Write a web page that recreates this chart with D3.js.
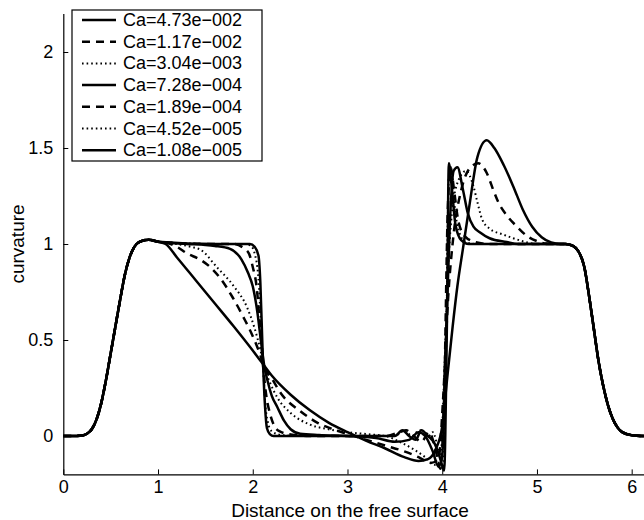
<!DOCTYPE html>
<html><head><meta charset="utf-8">
<script src="https://cdn.jsdelivr.net/npm/d3@7"></script>
<style>body{margin:0;background:#fff}svg{display:block}text{font-family:"Liberation Sans",Arial,Helvetica,sans-serif;fill:#000}</style>
</head><body><svg id="c" width="644" height="520"></svg>
<script>
// ---------- data ----------
const xTicks = [0, 1, 2, 3, 4, 5, 6];
const yTicks = [0, 0.5, 1, 1.5, 2];
const caLabels = ["Ca=4.73e\u2212002","Ca=1.17e\u2212002","Ca=3.04e\u2212003","Ca=7.28e\u2212004","Ca=1.89e\u2212004","Ca=4.52e\u2212005","Ca=1.08e\u2212005"];

// shared rising front (all series coincide here)
const riseFront = [[0,0],[0.1,0],[0.2,0.003],[0.25,0.012],[0.3,0.035],[0.35,0.085],[0.4,0.17],[0.45,0.29],[0.5,0.43],[0.55,0.57],[0.6,0.71],[0.65,0.84],[0.7,0.93],[0.75,0.985],[0.8,1.01],[0.9,1.022],[1.0,1.012]];
// shared falling front
const fallFront = [[5.3,1.0],[5.38,0.99],[5.44,0.96],[5.5,0.88],[5.55,0.73],[5.6,0.56],[5.65,0.39],[5.7,0.26],[5.75,0.16],[5.8,0.09],[5.85,0.045],[5.9,0.02],[6.0,0.004],[6.13,0]];

const mid1 = [[1.08,1.0],[1.2,0.93],[1.4,0.81],[1.6,0.69],[1.8,0.57],[2.0,0.445],[2.1,0.38],[2.2,0.315],[2.4,0.215],[2.6,0.135],[2.8,0.07],[3.0,0.02],[3.2,-0.025],[3.4,-0.065],[3.6,-0.11],[3.75,-0.13],[3.85,-0.12],[3.93,-0.07],[4.0,0.05],[4.05,0.29],[4.11,0.57],[4.16,0.78],[4.22,0.98],[4.29,1.21],[4.37,1.45],[4.47,1.54],[4.55,1.5],[4.65,1.41],[4.75,1.3],[4.85,1.18],[4.95,1.09],[5.05,1.035],[5.15,1.008],[5.25,1.0]];
const mid2 = [[1.1,1.005],[1.2,0.985],[1.31,0.95],[1.44,0.92],[1.55,0.88],[1.66,0.82],[1.79,0.72],[1.9,0.62],[2.0,0.52],[2.08,0.42],[2.12,0.36],[2.2,0.3],[2.3,0.22],[2.5,0.13],[2.68,0.07],[2.85,0.035],[3.0,0.01],[3.2,-0.02],[3.4,-0.05],[3.6,-0.08],[3.75,-0.11],[3.88,-0.14],[3.96,-0.12],[4.01,0.2],[4.06,0.7],[4.12,1.05],[4.2,1.28],[4.3,1.4],[4.38,1.42],[4.47,1.37],[4.54,1.28],[4.59,1.22],[4.68,1.15],[4.79,1.09],[4.9,1.04],[5.0,1.015],[5.1,1.002],[5.2,1.0]];
const mid3 = [[1.2,1.0],[1.35,0.985],[1.45,0.97],[1.62,0.88],[1.8,0.78],[1.94,0.67],[2.02,0.56],[2.08,0.45],[2.12,0.36],[2.18,0.28],[2.26,0.2],[2.4,0.12],[2.6,0.06],[2.8,0.035],[3.0,0.02],[3.2,0.01],[3.4,0.0],[3.55,-0.03],[3.7,-0.07],[3.82,-0.11],[3.92,-0.15],[3.98,-0.13],[4.02,0.3],[4.06,0.85],[4.1,1.15],[4.17,1.33],[4.25,1.38],[4.33,1.3],[4.37,1.22],[4.42,1.13],[4.5,1.08],[4.64,1.05],[4.75,1.03],[4.9,1.008],[5.0,1.0]];
const mid4 = [[1.3,1.0],[1.5,0.995],[1.6,0.99],[1.76,0.975],[1.88,0.92],[1.95,0.85],[2.0,0.78],[2.05,0.64],[2.08,0.52],[2.12,0.37],[2.16,0.28],[2.2,0.21],[2.26,0.15],[2.33,0.08],[2.4,0.035],[2.5,0.012],[2.7,0.005],[3.0,0.0],[3.3,-0.01],[3.5,-0.03],[3.65,-0.02],[3.75,0.02],[3.82,0.0],[3.9,-0.08],[3.96,-0.16],[4.0,-0.1],[4.04,0.5],[4.08,1.1],[4.12,1.38],[4.16,1.4],[4.22,1.28],[4.27,1.16],[4.33,1.09],[4.4,1.06],[4.5,1.03],[4.68,1.01],[4.8,1.0]];
const mid5 = [[1.5,1.0],[1.8,1.0],[1.9,0.98],[1.96,0.95],[2.0,0.88],[2.04,0.78],[2.08,0.55],[2.11,0.36],[2.14,0.22],[2.18,0.12],[2.22,0.06],[2.28,0.025],[2.4,0.008],[2.6,0],[3.4,0],[3.55,0.02],[3.62,0.03],[3.7,0.0],[3.78,-0.03],[3.86,0.02],[3.92,-0.05],[3.98,-0.17],[4.02,0.2],[4.06,1.2],[4.09,1.4],[4.12,1.3],[4.17,1.12],[4.24,1.04],[4.35,1.01],[4.5,1.0]];
const mid6 = [[1.6,1.0],[1.92,1.0],[1.98,0.99],[2.02,0.95],[2.06,0.82],[2.09,0.55],[2.11,0.36],[2.13,0.18],[2.16,0.07],[2.2,0.025],[2.3,0.005],[2.5,0],[3.5,0],[3.6,0.03],[3.68,0.0],[3.76,0.03],[3.84,-0.01],[3.9,0.02],[3.97,-0.1],[4.01,-0.17],[4.04,0.4],[4.07,1.35],[4.1,1.38],[4.13,1.2],[4.18,1.06],[4.25,1.01],[4.35,1.0]];
const mid7 = [[1.6,1.0],[1.97,1.0],[2.02,0.985],[2.06,0.94],[2.08,0.8],[2.1,0.5],[2.11,0.36],[2.13,0.15],[2.15,0.04],[2.18,0.01],[2.22,0],[3.5,0],[3.58,0.03],[3.65,0.0],[3.72,-0.02],[3.78,0.03],[3.85,0.0],[3.92,-0.04],[3.98,-0.12],[4.02,-0.18],[4.05,0.6],[4.07,1.42],[4.1,1.3],[4.14,1.1],[4.2,1.02],[4.28,1.0]];
const middles = [mid1, mid2, mid3, mid4, mid5, mid6, mid7];

// ---------- style ----------
const dashes = ["", "8,6", "1.6,3", "", "8,6", "1.6,3", ""];
const widths = [2.5, 2.5, 2, 2.5, 2.5, 2, 2.5];

// ---------- layout ----------
const svg = d3.select("#c");
const x = d3.scaleLinear().domain([0, 6.13]).range([63.3, 644]);
const y = d3.scaleLinear().domain([-0.2, 2.2]).range([474.4, 13.6]);

const line = d3.line().x(d => x(d[0])).y(d => y(d[1])).curve(d3.curveMonotoneX);

const series = middles.map(m => riseFront.concat(m, fallFront));

svg.append("g").selectAll("path").data(series).join("path")
  .attr("d", line).attr("fill", "none").attr("stroke", "#000")
  .attr("stroke-width", (d, i) => widths[i])
  .attr("stroke-dasharray", (d, i) => dashes[i] || null)
  .attr("stroke-linejoin", "round");

// axes
const xAxis = d3.axisBottom(x).tickValues(xTicks).tickSizeInner(-5).tickSizeOuter(0).tickPadding(6).tickFormat(d3.format("d"));
const gx = svg.append("g").attr("transform", `translate(0,${y(-0.2)})`).call(xAxis);
gx.select(".domain").attr("stroke", "#000").attr("stroke-width", 1.2);
gx.selectAll("text").attr("font-size", 18).attr("font-family", "Liberation Sans, Arial, sans-serif");

const yAxis = d3.axisLeft(y).tickValues(yTicks).tickSizeInner(-5).tickSizeOuter(0).tickPadding(10).tickFormat(d => d3.format("")(d));
const gy = svg.append("g").attr("transform", `translate(${x(0)},0)`).call(yAxis);
gy.select(".domain").attr("stroke", "#000").attr("stroke-width", 1.2);
gy.selectAll("text").attr("font-size", 18).attr("font-family", "Liberation Sans, Arial, sans-serif");

svg.append("text").attr("x", 350).attr("y", 517).attr("text-anchor", "middle")
  .attr("font-size", 19).text("Distance on the free surface");
svg.append("text").attr("transform", "translate(24,244) rotate(-90)").attr("text-anchor", "middle")
  .attr("font-size", 19).text("curvature");

// legend
const lg = svg.append("g");
lg.append("rect").attr("x", 72).attr("y", 10).attr("width", 190).attr("height", 151)
  .attr("fill", "#fff").attr("stroke", "#000").attr("stroke-width", 1.2);
const items = lg.selectAll("g.it").data(caLabels).join("g").attr("class", "it")
  .attr("transform", (d, i) => `translate(0,${20 + i * 21.7})`);
items.append("line").attr("x1", 82).attr("x2", 116).attr("y1", 0).attr("y2", 0)
  .attr("stroke", "#000").attr("stroke-width", (d, i) => widths[i])
  .attr("stroke-dasharray", (d, i) => dashes[i] || null);
items.append("text").attr("x", 123).attr("y", 6).attr("font-size", 18).text(d => d);
</script></body></html>
